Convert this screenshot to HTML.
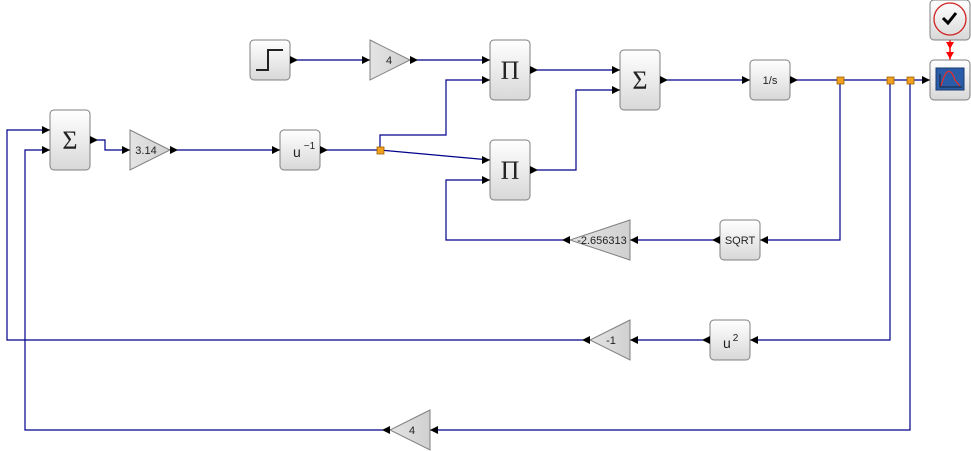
<!DOCTYPE html>
<html><head><meta charset="utf-8"><style>
html,body{margin:0;padding:0;background:#fff;}
svg{display:block;font-family:"Liberation Sans",sans-serif;}
</style></head><body>
<svg width="971" height="451" viewBox="0 0 971 451" xmlns="http://www.w3.org/2000/svg">
<defs>
<linearGradient id="g" x1="0" y1="0" x2="0" y2="1"><stop offset="0" stop-color="#ffffff"/><stop offset="1" stop-color="#d8d8d8"/></linearGradient>
<linearGradient id="gt" x1="0" y1="0" x2="1" y2="0"><stop offset="0" stop-color="#e4e4e4"/><stop offset="1" stop-color="#d0d0d0"/></linearGradient>
</defs>
<g fill="none" stroke="#00008b" stroke-width="1.2">
<polyline points="290,60 370,60"/>
<polyline points="410,60 490,60"/>
<polyline points="380,150 380,135 446,135 446,80 490,80"/>
<polyline points="380,150 490,160"/>
<polyline points="530,70 620,70"/>
<polyline points="530,170 576,170 576,90 620,90"/>
<polyline points="660,80 750,80"/>
<polyline points="790,80 930,80"/>
<polyline points="840,80 840,240 760,240"/>
<polyline points="720,240 630,240"/>
<polyline points="570,240 446,240 446,180 490,180"/>
<polyline points="890,80 890,340 750,340"/>
<polyline points="710,340 630,340"/>
<polyline points="590,340 7,340 7,130 50,130"/>
<polyline points="910,80 910,430 430,430"/>
<polyline points="390,430 25,430 25,150 50,150"/>
<polyline points="90,140 105,140 105,150 130,150"/>
<polyline points="170,150 280,150"/>
<polyline points="320,150 380,150"/>
</g>
<line x1="950" y1="40" x2="950" y2="60" stroke="#f00" stroke-width="1.5"/>
<polygon points="946,42 954,42 950,49" fill="#f00"/>
<polygon points="946,52 954,52 950,59" fill="#f00"/>
<g fill="#f0a020" stroke="#a06000" stroke-width="0.8">
<rect x="377" y="147" width="7" height="7"/>
<rect x="837" y="77" width="7" height="7"/>
<rect x="887" y="77" width="7" height="7"/>
<rect x="907" y="77" width="7" height="7"/>
</g>
<g fill="url(#g)" stroke="#808080" stroke-width="1">
<rect x="250" y="40" width="40" height="40" rx="4"/>
<rect x="490" y="40" width="40" height="60" rx="4"/>
<rect x="620" y="50" width="40" height="60" rx="4"/>
<rect x="750" y="60" width="40" height="40" rx="4"/>
<rect x="930" y="60" width="40" height="40" rx="4"/>
<rect x="930" y="0" width="40" height="40" rx="4"/>
<rect x="50" y="110" width="40" height="60" rx="4"/>
<rect x="280" y="130" width="40" height="40" rx="4"/>
<rect x="490" y="140" width="40" height="60" rx="4"/>
<rect x="720" y="220" width="40" height="40" rx="4"/>
<rect x="710" y="320" width="40" height="40" rx="4"/>
</g>
<g fill="url(#gt)" stroke="#808080" stroke-width="1">
<polygon points="370,40 410,60 370,80"/>
<polygon points="130,130 170,150 130,170"/>
<polygon points="630,220 570,240 630,260"/>
<polygon points="630,320 590,340 630,360"/>
<polygon points="430,410 390,430 430,450"/>
</g>
<polyline points="256,70 268,70 268,50 283,50" fill="none" stroke="#222" stroke-width="2"/>
<circle cx="950" cy="19" r="16" fill="none" stroke="#d02020" stroke-width="1.3"/>
<polyline points="943,18 948,23 956,13" fill="none" stroke="#000" stroke-width="3"/>
<rect x="936" y="68" width="28" height="22" fill="#2a5ca8" stroke="#1a3a70"/>
<polyline points="940,74 940,87 962,87" fill="none" stroke="#111" stroke-width="0.8"/>
<path d="M941,86 Q948,60 955,80 L960,86" fill="none" stroke="#e03030" stroke-width="1.3"/>
<g font-family="Liberation Serif,serif" font-size="26" text-anchor="middle" fill="#222">
<text x="510" y="79">Π</text>
<text x="510" y="179">Π</text>
<text x="640" y="89">Σ</text>
<text x="70" y="149">Σ</text>
</g>
<g font-size="11" text-anchor="middle" fill="#222">
<text x="389" y="64">4</text>
<text x="146" y="154">3.14</text>
<text x="770" y="84">1/s</text>
<text x="740" y="244">SQRT</text>
<text x="602" y="244">-2.656313</text>
<text x="611" y="344">-1</text>
<text x="412" y="434">4</text>
</g>
<text x="293" y="157" font-size="14" fill="#222">u<tspan font-size="10" dy="-8" dx="3">−1</tspan></text>
<text x="723" y="348" font-size="14" fill="#222">u<tspan font-size="10" dy="-7" dx="2">2</tspan></text>
<g fill="#000">
<polygon points="290,56 298,60 290,64"/>
<polygon points="362,56 370,60 362,64"/>
<polygon points="410,56 418,60 410,64"/>
<polygon points="482,56 490,60 482,64"/>
<polygon points="482,76 490,80 482,84"/>
<polygon points="530,66 538,70 530,74"/>
<polygon points="612,66 620,70 612,74"/>
<polygon points="612,86 620,90 612,94"/>
<polygon points="660,76 668,80 660,84"/>
<polygon points="742,76 750,80 742,84"/>
<polygon points="790,76 798,80 790,84"/>
<polygon points="922,76 930,80 922,84"/>
<polygon points="42,126 50,130 42,134"/>
<polygon points="42,146 50,150 42,154"/>
<polygon points="90,136 98,140 90,144"/>
<polygon points="122,146 130,150 122,154"/>
<polygon points="170,146 178,150 170,154"/>
<polygon points="272,146 280,150 272,154"/>
<polygon points="320,146 328,150 320,154"/>
<polygon points="482,156 490,160 482,164"/>
<polygon points="482,176 490,180 482,184"/>
<polygon points="530,166 538,170 530,174"/>
<polygon points="768,236 760,240 768,244"/>
<polygon points="720,236 712,240 720,244"/>
<polygon points="638,236 630,240 638,244"/>
<polygon points="570,236 562,240 570,244"/>
<polygon points="758,336 750,340 758,344"/>
<polygon points="710,336 702,340 710,344"/>
<polygon points="638,336 630,340 638,344"/>
<polygon points="590,336 582,340 590,344"/>
<polygon points="438,426 430,430 438,434"/>
<polygon points="390,426 382,430 390,434"/>
</g>
</svg>
</body></html>
